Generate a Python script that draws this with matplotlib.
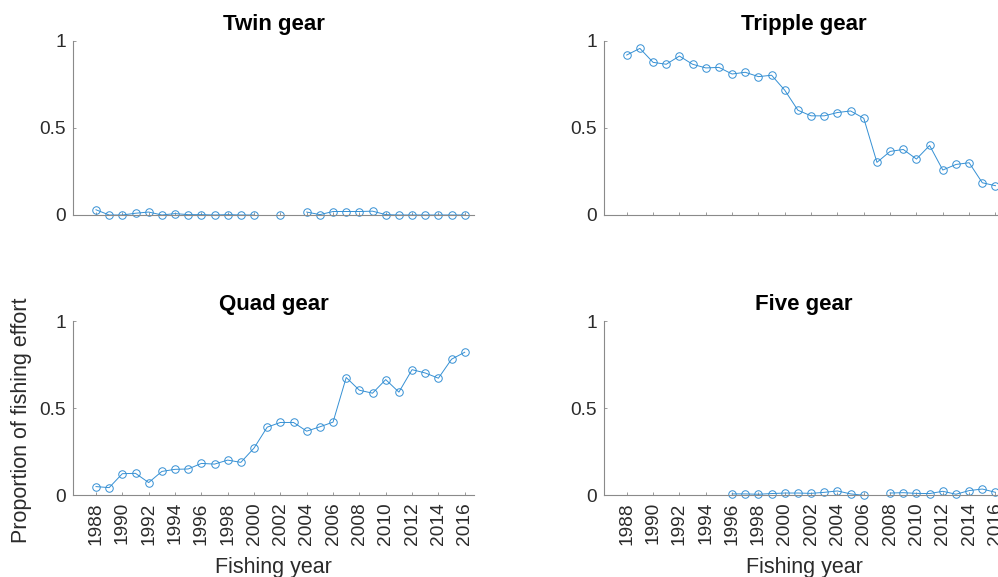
import numpy as np
import matplotlib
matplotlib.use('Agg')
import matplotlib.pyplot as plt

plt.rcParams['font.family'] = ['Liberation Sans', 'DejaVu Sans']

nan = np.nan
years = np.arange(1988, 2017)

# proportion of fishing effort by gear type, 1988-2016 (nan = no record)
twin = [0.030, 0.0, 0.0, 0.010, 0.017, 0.0, 0.008, 0.002, 0.002, 0.0,
        0.002, 0.0, 0.0, nan, 0.0, nan, 0.017, 0.002, 0.020, 0.020,
        0.020, 0.022, 0.002, 0.0, 0.0, 0.0, 0.0, 0.0, 0.0]
tripple = [0.918, 0.956, 0.876, 0.865, 0.912, 0.865, 0.844, 0.847, 0.809, 0.819,
           0.794, 0.802, 0.716, 0.601, 0.569, 0.569, 0.588, 0.597, 0.555, 0.302,
           0.365, 0.376, 0.321, 0.399, 0.258, 0.290, 0.300, 0.185, 0.168]
quad = [0.050, 0.044, 0.124, 0.126, 0.073, 0.137, 0.149, 0.151, 0.183, 0.179,
        0.202, 0.189, 0.271, 0.391, 0.418, 0.418, 0.368, 0.393, 0.420, 0.676,
        0.603, 0.586, 0.664, 0.592, 0.721, 0.702, 0.672, 0.781, 0.821]
five = [nan, nan, nan, nan, nan, nan, nan, nan, 0.008, 0.008,
        0.006, 0.010, 0.013, 0.013, 0.011, 0.017, 0.025, 0.008, 0.0, nan,
        0.013, 0.015, 0.011, 0.010, 0.023, 0.006, 0.027, 0.036, 0.017]

titles = ['Twin gear', 'Tripple gear', 'Quad gear', 'Five gear']
series = [twin, tripple, quad, five]
xticks = np.arange(1988, 2017, 2)

line_col = '#3590d4'
axis_col = '#8a8a8a'
text_col = '#2b2b2b'

fig = plt.figure(figsize=(9.98, 5.77), dpi=100)

w, h = 0.4018, 0.302
positions = [[0.0731, 0.6274, w, h], [0.6049, 0.6274, w, h],
             [0.0731, 0.1416, w, h], [0.6049, 0.1416, w, h]]

for i, (pos, title, vals) in enumerate(zip(positions, titles, series)):
    ax = fig.add_axes(pos)
    ax.plot(years, vals, '-o', color=line_col, lw=0.7, ms=5.4,
            mfc='none', mew=0.7, clip_on=False)
    ax.set_xlim(1986.25, 2016.7)
    ax.set_ylim(0, 1)
    ax.set_yticks([0, 0.5, 1])
    ax.set_yticklabels(['0', '0.5', '1'])
    ax.set_xticks(xticks)
    ax.spines['top'].set_visible(False)
    ax.spines['right'].set_visible(False)
    for s in ['left', 'bottom']:
        ax.spines[s].set_color(axis_col)
        ax.spines[s].set_linewidth(0.8)
    ax.tick_params(direction='in', length=2.5, width=0.6, color=axis_col,
                   labelsize=13.8, labelcolor=text_col, pad=5)
    ax.set_title(title, fontsize=16, fontweight='bold', pad=8)
    if i < 2:
        ax.set_xticklabels([])
    else:
        ax.set_xticklabels([str(y) for y in xticks], rotation=90)
        ax.set_xlabel('Fishing year', fontsize=15.5, color=text_col, labelpad=9)

fig.text(0.022, 0.272, 'Proportion of fishing effort', rotation=90,
         fontsize=15.5, color=text_col, ha='center', va='center')

fig.savefig('out.png', dpi=100)
